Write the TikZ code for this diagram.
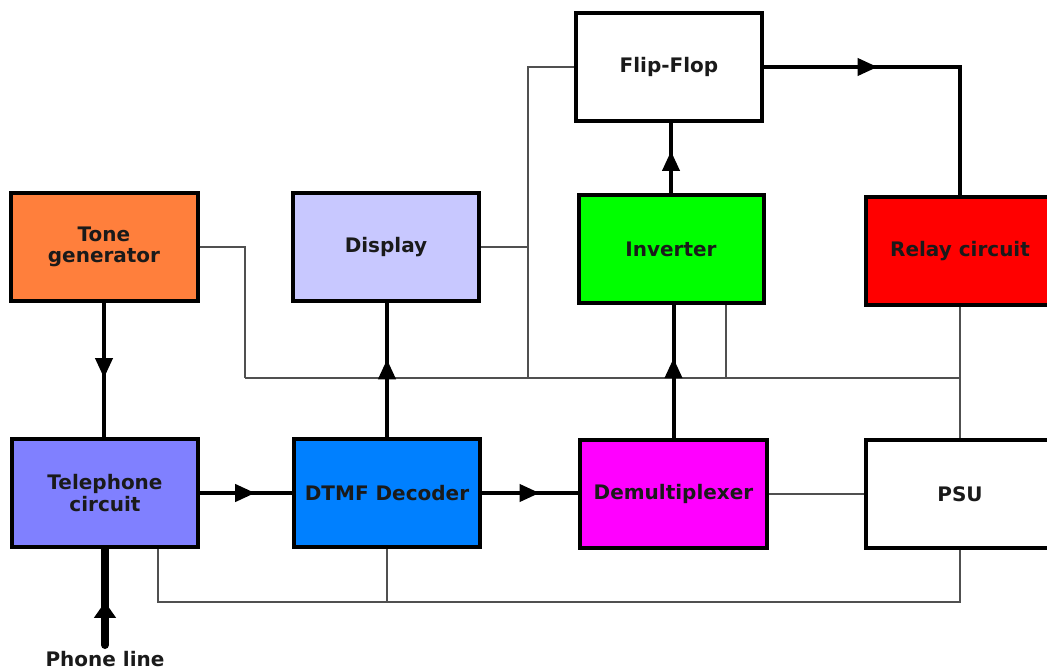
\documentclass[tikz,border=0pt]{standalone}
\usepackage{fontspec}
\setmainfont{DejaVu Sans}
\usetikzlibrary{arrows.meta,decorations.markings}

\definecolor{tonec}{HTML}{FF7F3C}
\definecolor{dispc}{HTML}{C8C8FF}
\definecolor{invc}{HTML}{00FF00}
\definecolor{relc}{HTML}{FF0000}
\definecolor{telc}{HTML}{8080FF}
\definecolor{dtmfc}{HTML}{0080FF}
\definecolor{demuxc}{HTML}{FF00FF}
\definecolor{wirec}{HTML}{505050}
\definecolor{inkc}{HTML}{1A1A1A}

\tikzset{
  blk/.style={draw=black, line width=4pt, minimum width=186pt, minimum height=108pt,
    inner sep=0pt, align=center, text=inkc,
    font=\fontsize{20}{21.5}\selectfont\bfseries},
  sig/.style={draw=black, line width=4pt},
  wire/.style={draw=wirec, line width=1.3pt},
  midarrow/.style={postaction={decorate}, decoration={markings,
    mark=at position #1 with {\arrow{Triangle[length=20pt,width=17pt]}}}},
  bigarrow/.style={postaction={decorate}, decoration={markings,
    mark=at position #1 with {\arrow{Triangle[length=16pt,width=21pt]}}}}
}

\begin{document}
\begin{tikzpicture}[x=1pt,y=-1pt]
\useasboundingbox (0,0) rectangle (1047,671);
\clip (0,0) rectangle (1047,671);
\fill[white] (0,0) rectangle (1047,671);

% blocks
\node[blk, fill=tonec, minimum width=187pt] (tone) at (104,247) {Tone\\generator};
\node[blk, fill=dispc] (disp) at (386,247) {Display};
\node[blk, fill=invc, minimum width=185pt] (inv) at (671,249) {Inverter};
\node[blk, fill=relc, minimum width=188pt, minimum height=107pt] (relay) at (960,251) {Relay circuit};
\node[blk, fill=white] (ff) at (669,67) {Flip-Flop};
\node[blk, fill=telc] (tel) at (105,493) {Telephone\\circuit};
\node[blk, fill=dtmfc] (dtmf) at (387,493) {DTMF Decoder};
\node[blk, fill=demuxc, minimum width=187pt] (demux) at (673.5,494) {Demultiplexer};
\node[blk, fill=white, minimum width=188pt] (psu) at (960,494) {PSU};

% supply and common wiring
\coordinate (busL) at (245,378);
\coordinate (busA) at (528,378);
\coordinate (busB) at (726,378);
\coordinate (busR) at (960,378);
\coordinate (gndL) at (158,602);

\draw[wire] (tone.east) -| (busL);
\draw[wire] (busL) -- (busR);
\draw[wire] (ff.west) -| (busA);
\draw[wire] (disp.east) -- (disp.east -| busA);
\draw[wire] (busB) -- (busB |- inv.south);
\draw[wire] (relay.south) -- (psu.north);
\draw[wire] (demux.east) -- (psu.west);
\draw[wire] (gndL |- tel.south) -- (gndL) -| (psu.south);
\draw[wire] (dtmf.south) -- (dtmf.south |- gndL);

% signal path
\draw[sig, midarrow=0.56] (tone.south) -- (tone.south |- tel.north);
\draw[sig, midarrow=0.6] (tel.east) -- (dtmf.west);
\draw[sig, midarrow=0.6] (dtmf.east) -- (dtmf.east -| demux.west);
\draw[sig, midarrow=0.58] (dtmf.north) -- (dtmf.north |- disp.south);
\draw[sig, midarrow=0.6] (demux.north) -- (demux.north |- inv.south);
\draw[sig, midarrow=0.6] (inv.north) -- (inv.north |- ff.south);
\draw[sig, midarrow=0.35] (ff.east) -| (relay.north);

% phone line input
\coordinate (line) at (105,645);
\draw[sig, line width=8pt, line cap=round, bigarrow=0.45] (line) -- (tel.south);
\node[text=inkc, font=\fontsize{20}{21.5}\selectfont\bfseries, anchor=north] (plabel) at (105,648) {Phone line};
\end{tikzpicture}
\end{document}
